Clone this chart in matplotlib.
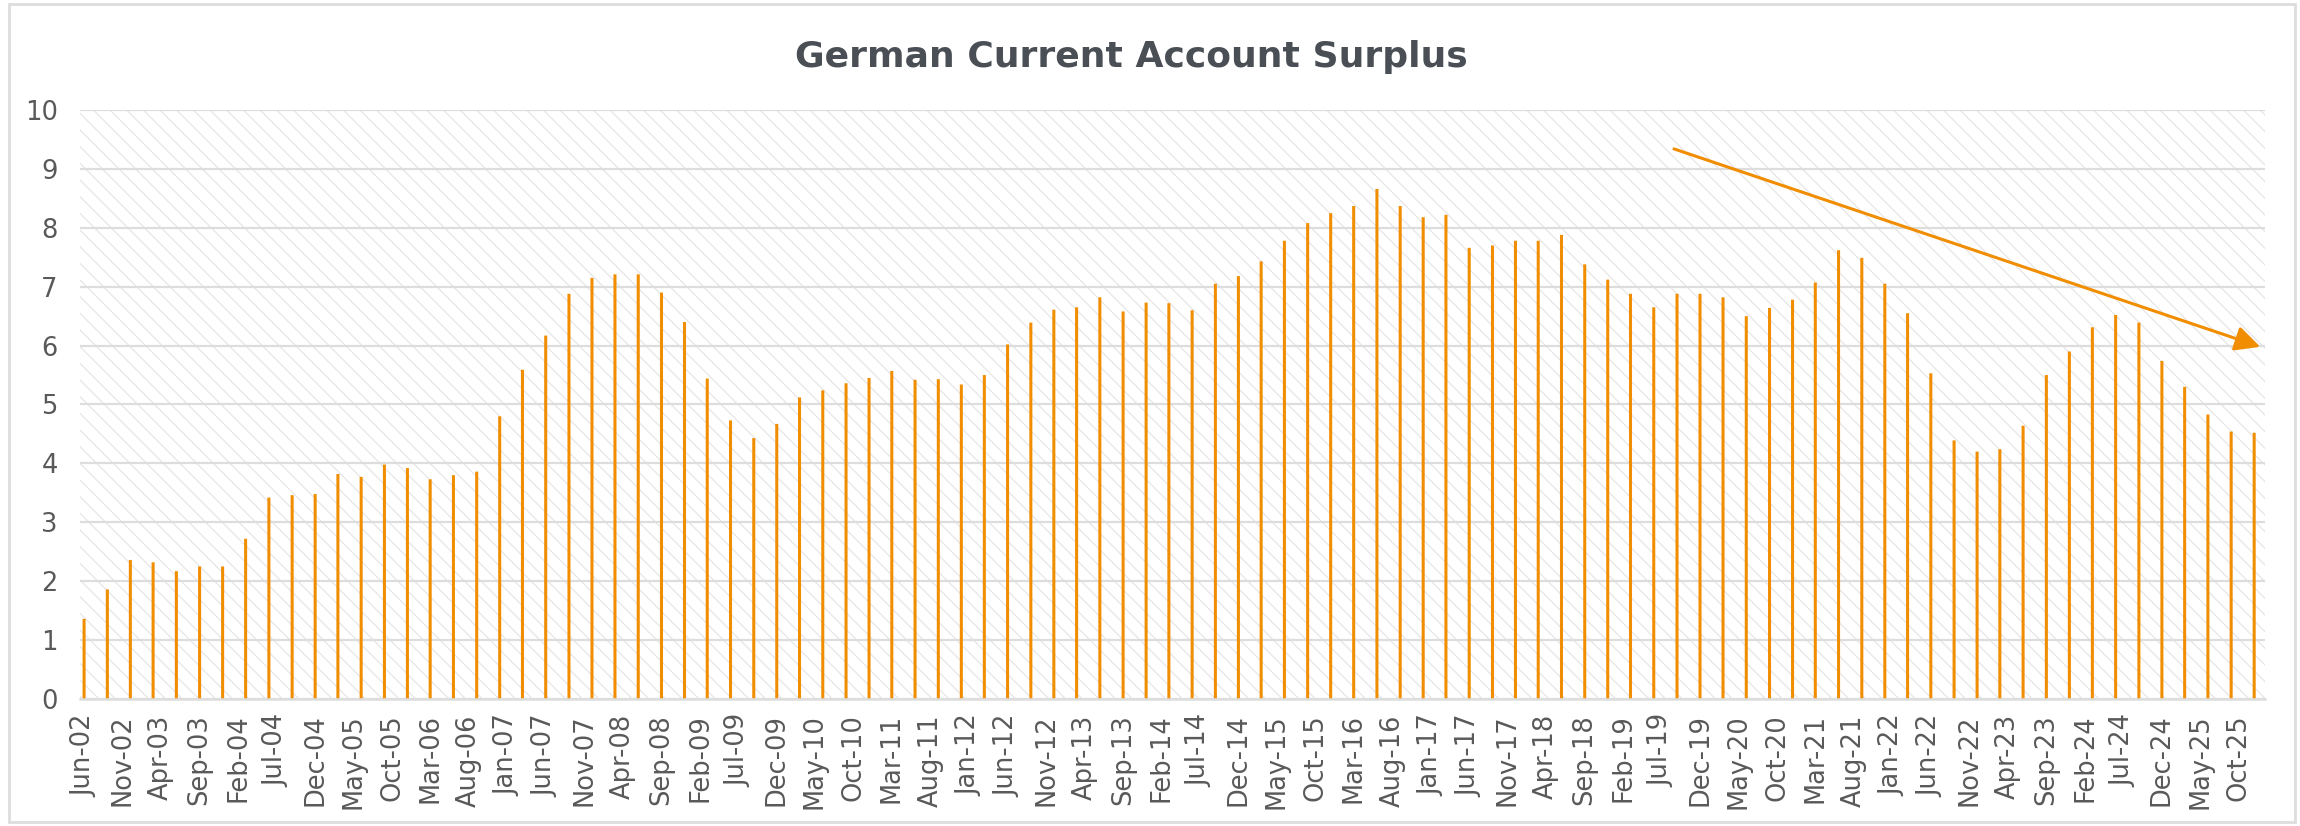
import numpy as np
import pandas as pd
import matplotlib
matplotlib.use("Agg")
import matplotlib.pyplot as plt
import matplotlib.dates as mdates
from matplotlib.patches import Rectangle

# Quarterly German current account surplus (% of GDP), Jun-02 .. Dec-25
surplus = [
    1.36, 1.86, 2.36, 2.32, 2.17, 2.25, 2.25, 2.72, 3.42, 3.46, 3.48, 3.82,
    3.77, 3.98, 3.92, 3.73, 3.80, 3.86, 4.80, 5.59, 6.17, 6.88, 7.15, 7.21,
    7.21, 6.90, 6.40, 5.44, 4.73, 4.43, 4.67,
    5.12, 5.24, 5.36, 5.45, 5.57, 5.42, 5.43, 5.34, 5.50, 6.02, 6.39, 6.61,
    6.65, 6.82, 6.58, 6.73, 6.72, 6.60, 7.05, 7.18, 7.43, 7.78, 8.08, 8.25,
    8.37, 8.66, 8.37, 8.18, 8.22, 7.66, 7.70, 7.78,
    7.78, 7.88, 7.38, 7.12, 6.88, 6.65, 6.88, 6.88, 6.82, 6.50, 6.64, 6.78,
    7.07, 7.62, 7.49, 7.05, 6.55, 5.53, 4.39, 4.20, 4.24, 4.64, 5.50, 5.90,
    6.31, 6.52, 6.39, 5.74, 5.30, 4.83, 4.54, 4.52,
]
quarters = pd.date_range("2002-06-01", periods=len(surplus), freq="3MS")
tick_dates = pd.date_range("2002-06-01", "2025-10-01", freq="5MS")

# trend arrow (start / end in data units)
arrow_start = (pd.Timestamp("2019-08-20"), 9.34)
arrow_end = (pd.Timestamp("2025-12-25"), 5.98)

orange = "#f18d00"
grey_text = "#595959"
grid_grey = "#dddddd"

plt.rcParams["font.family"] = ["DejaVu Sans"]
plt.rcParams["hatch.linewidth"] = 0.8

fig = plt.figure(figsize=(23, 8.26), dpi=100)
ax = fig.add_axes([0.0348, 0.1538, 0.95, 0.713])

# hatched plot-area background
bg = Rectangle((0, 0), 1, 1, transform=ax.transAxes, facecolor="white",
               edgecolor="#e3e3e3", linewidth=0, hatch="\\\\", zorder=0.1)
ax.add_patch(bg)

bars = ax.bar(quarters, surplus, width=12, color=orange, zorder=2)
for b in bars:
    b.set_snap(False)

ax.annotate("", xy=(mdates.date2num(arrow_end[0]), arrow_end[1]),
            xytext=(mdates.date2num(arrow_start[0]), arrow_start[1]),
            arrowprops=dict(arrowstyle="-|>", color=orange, lw=2.2,
                            mutation_scale=38, shrinkA=0, shrinkB=0),
            zorder=3)

ax.set_ylim(0, 10)
ax.set_yticks(range(0, 11))
ax.set_xlim(pd.Timestamp("2002-05-16"), pd.Timestamp("2026-01-13"))
ax.set_xticks(tick_dates)
ax.set_xticklabels([d.strftime("%b-%y") for d in tick_dates], rotation=90)

ax.set_axisbelow(True)
ax.yaxis.grid(True, color=grid_grey, linewidth=1.6, zorder=0.5)
for s in ["top", "right", "left"]:
    ax.spines[s].set_visible(False)
ax.spines["bottom"].set_color(grid_grey)
ax.spines["bottom"].set_linewidth(1.8)
ax.tick_params(axis="both", length=0, colors=grey_text, labelsize=18.5)
ax.tick_params(axis="y", pad=16)
ax.tick_params(axis="x", pad=11)

fig.text(0.4917, 0.931, "German Current Account Surplus", ha="center", va="center",
         fontsize=26, fontweight="bold", color="#4a4f55")

# light frame around the whole chart
fig.add_artist(Rectangle((0.0039, 0.005), 0.9939, 0.99, transform=fig.transFigure,
                         fill=False, edgecolor=grid_grey, linewidth=2))

fig.savefig("out.png", dpi=100)
